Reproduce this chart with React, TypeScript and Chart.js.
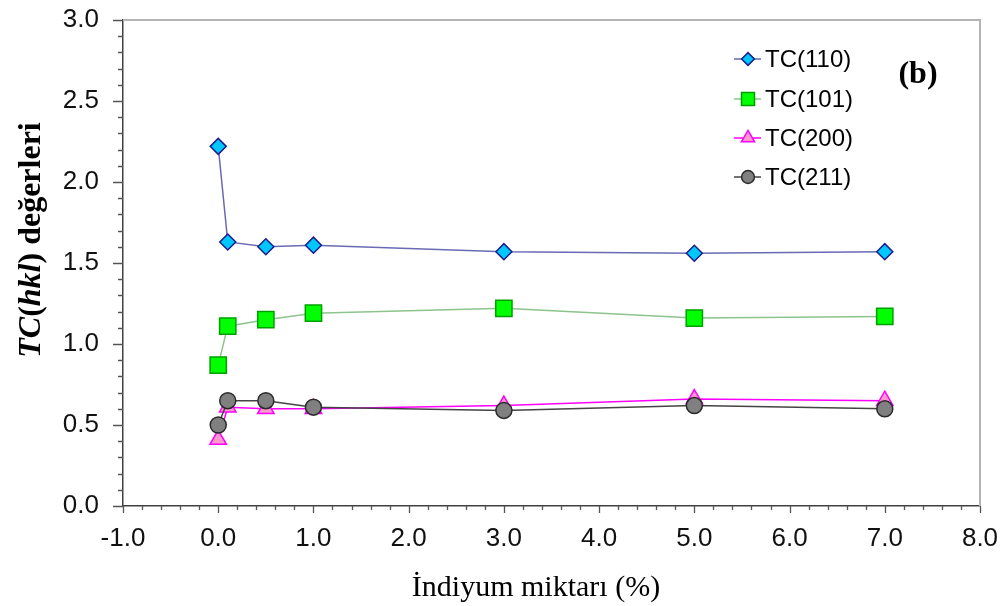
import React, { useEffect, useRef } from "react";
import { Chart, registerables } from "chart.js";
import { drawPoint } from "chart.js/helpers";

Chart.register(...registerables);

const indiumPercent = [0, 0.1, 0.5, 1, 3, 5, 7];
const tc110 = [2.22, 1.63, 1.6, 1.61, 1.57, 1.56, 1.57];
const tc101 = [0.87, 1.11, 1.15, 1.19, 1.22, 1.16, 1.17];
const tc200 = [0.41, 0.61, 0.6, 0.6, 0.62, 0.66, 0.65];
const tc211 = [0.5, 0.65, 0.65, 0.61, 0.59, 0.62, 0.6];
const seriesLabels = ["TC(110)", "TC(101)", "TC(200)", "TC(211)"];
const xTitle = "İndiyum miktarı (%)";
const yTitleParts: [string, string][] = [
  ["TC", "italic bold"],
  ["(", "bold"],
  ["hkl", "italic bold"],
  [")", "bold"],
  [" değerleri", "bold"],
];
const panelLabel = "(b)";

const SANS = "'Liberation Sans', Arial, sans-serif";
const SERIF = "'Liberation Serif', 'Times New Roman', serif";

const toPoints = (ys: number[]) => indiumPercent.map((x, i) => ({ x, y: ys[i] }));

const decorPlugin = {
  id: "decor",
  afterDraw(chart: any) {
    const ctx = chart.ctx;
    const area = chart.chartArea;
    const xs = chart.scales.x;
    const ys = chart.scales.y;
    ctx.save();
    // top & right frame
    ctx.strokeStyle = "#b4b4b4";
    ctx.lineWidth = 2;
    ctx.beginPath();
    ctx.moveTo(area.left, area.top);
    ctx.lineTo(area.right, area.top);
    ctx.lineTo(area.right, area.bottom);
    ctx.stroke();
    // tick marks
    ctx.strokeStyle = "#555555";
    ctx.lineWidth = 1.3;
    ctx.beginPath();
    xs.ticks.forEach((t: any) => {
      const px = Math.round(xs.getPixelForValue(t.value)) + 0.5;
      const major = Math.round(t.value * 5) % 5 === 0;
      ctx.moveTo(px, area.bottom);
      ctx.lineTo(px, area.bottom + (major ? 7 : 4));
    });
    ys.ticks.forEach((t: any) => {
      const py = Math.round(ys.getPixelForValue(t.value)) + 0.5;
      const major = Math.round(t.value * 10) % 5 === 0;
      ctx.moveTo(area.left, py);
      ctx.lineTo(area.left - (major ? 10 : 5), py);
    });
    ctx.stroke();

    // legend
    const rows = [59, 99, 138, 177];
    chart.data.datasets.forEach((ds: any, i: number) => {
      const y = rows[i];
      ctx.strokeStyle = ds.borderColor;
      ctx.lineWidth = 1.5;
      ctx.beginPath();
      ctx.moveTo(734, y);
      ctx.lineTo(761, y);
      ctx.stroke();
      ctx.fillStyle = ds.pointBackgroundColor;
      ctx.strokeStyle = ds.pointBorderColor;
      ctx.lineWidth = ds.pointBorderWidth;
      drawPoint(ctx, { pointStyle: ds.pointStyle, radius: ds.pointRadius * 0.8, rotation: 0, borderWidth: ds.pointBorderWidth }, 748, y);
      ctx.fillStyle = "#000";
      ctx.font = `24px ${SANS}`;
      ctx.textAlign = "left";
      ctx.textBaseline = "middle";
      ctx.fillText(ds.label, 765, y + 1);
    });

    // panel label
    ctx.fillStyle = "#000";
    ctx.font = `bold 32px ${SERIF}`;
    ctx.textAlign = "center";
    ctx.textBaseline = "middle";
    ctx.fillText(panelLabel, 918, 75);

    // x title
    ctx.font = `30px ${SERIF}`;
    ctx.textBaseline = "alphabetic";
    ctx.fillText(xTitle, 536, 596);

    // y title (mixed styles)
    ctx.translate(40, 240);
    ctx.rotate(-Math.PI / 2);
    ctx.textAlign = "left";
    ctx.textBaseline = "alphabetic";
    let total = 0;
    yTitleParts.forEach(([s, st]) => {
      ctx.font = `${st} 32px ${SERIF}`;
      total += ctx.measureText(s).width;
    });
    let cx = -total / 2;
    yTitleParts.forEach(([s, st]) => {
      ctx.font = `${st} 32px ${SERIF}`;
      ctx.fillText(s, cx, 0);
      cx += ctx.measureText(s).width;
    });
    ctx.restore();
  },
};

export default function App() {
  const ref = useRef<HTMLCanvasElement>(null);
  useEffect(() => {
    if (!ref.current) return;
    const common = { showLine: true, borderWidth: 1.5, pointBorderWidth: 1.5, pointHoverRadius: 8 };
    const chart = new Chart(ref.current, {
      type: "scatter",
      data: {
        datasets: [
          { ...common, label: seriesLabels[0], data: toPoints(tc110), borderColor: "#6a6ab4", pointBackgroundColor: "#00c8ff", pointBorderColor: "#1c1c8a", pointStyle: "rectRot", pointRadius: 8, order: 4 },
          { ...common, label: seriesLabels[1], data: toPoints(tc101), borderColor: "#8cc48c", pointBackgroundColor: "#00ff00", pointBorderColor: "#00a000", pointStyle: "rect", pointRadius: 11.5, order: 3 },
          { ...common, label: seriesLabels[2], data: toPoints(tc200), borderColor: "#ff00ff", pointBackgroundColor: "#ff99cc", pointBorderColor: "#ff00ff", pointStyle: "triangle", pointRadius: 9.5, order: 2 },
          { ...common, label: seriesLabels[3], data: toPoints(tc211), borderColor: "#444444", pointBackgroundColor: "#808080", pointBorderColor: "#2a2a2a", pointStyle: "circle", pointRadius: 8, order: 1 },
        ],
      },
      options: {
        responsive: false,
        animation: false,
        layout: { padding: { top: 20, right: 28, left: 0, bottom: 0 } },
        plugins: { legend: { display: false }, tooltip: { enabled: false } },
        scales: {
          x: {
            type: "linear",
            min: -1,
            max: 8,
            afterFit: (s: any) => { s.height = 100; s.paddingLeft = 0; s.paddingRight = 0; },
            ticks: {
              stepSize: 0.2,
              autoSkip: false,
              maxRotation: 0,
              padding: 10,
              color: "#111",
              font: { family: SANS, size: 26 },
              callback: (v: any) => (Math.round(Number(v) * 5) % 5 === 0 ? Number(v).toFixed(1) : ""),
            },
            grid: { display: false, drawTicks: true, tickLength: 7 },
            border: { display: true, color: "#404040", width: 1.5 },
          },
          y: {
            type: "linear",
            min: 0,
            max: 3,
            afterFit: (s: any) => { s.width = 123; s.paddingTop = 0; s.paddingBottom = 0; },
            ticks: {
              stepSize: 0.1,
              autoSkip: false,
              padding: 14,
              color: "#111",
              font: { family: SANS, size: 26 },
              callback: (v: any) => (Math.round(Number(v) * 10) % 5 === 0 ? Number(v).toFixed(1) : ""),
            },
            grid: { display: false, drawTicks: true, tickLength: 10 },
            border: { display: true, color: "#404040", width: 1.5 },
          },
        },
      },
      plugins: [decorPlugin],
    });
    return () => chart.destroy();
  }, []);
  return (
    <div style={{ position: "fixed", left: 0, top: 0, width: 1008, height: 606, background: "#fff" }}>
      <canvas ref={ref} width={1008} height={606} style={{ display: "block" }} />
    </div>
  );
}
